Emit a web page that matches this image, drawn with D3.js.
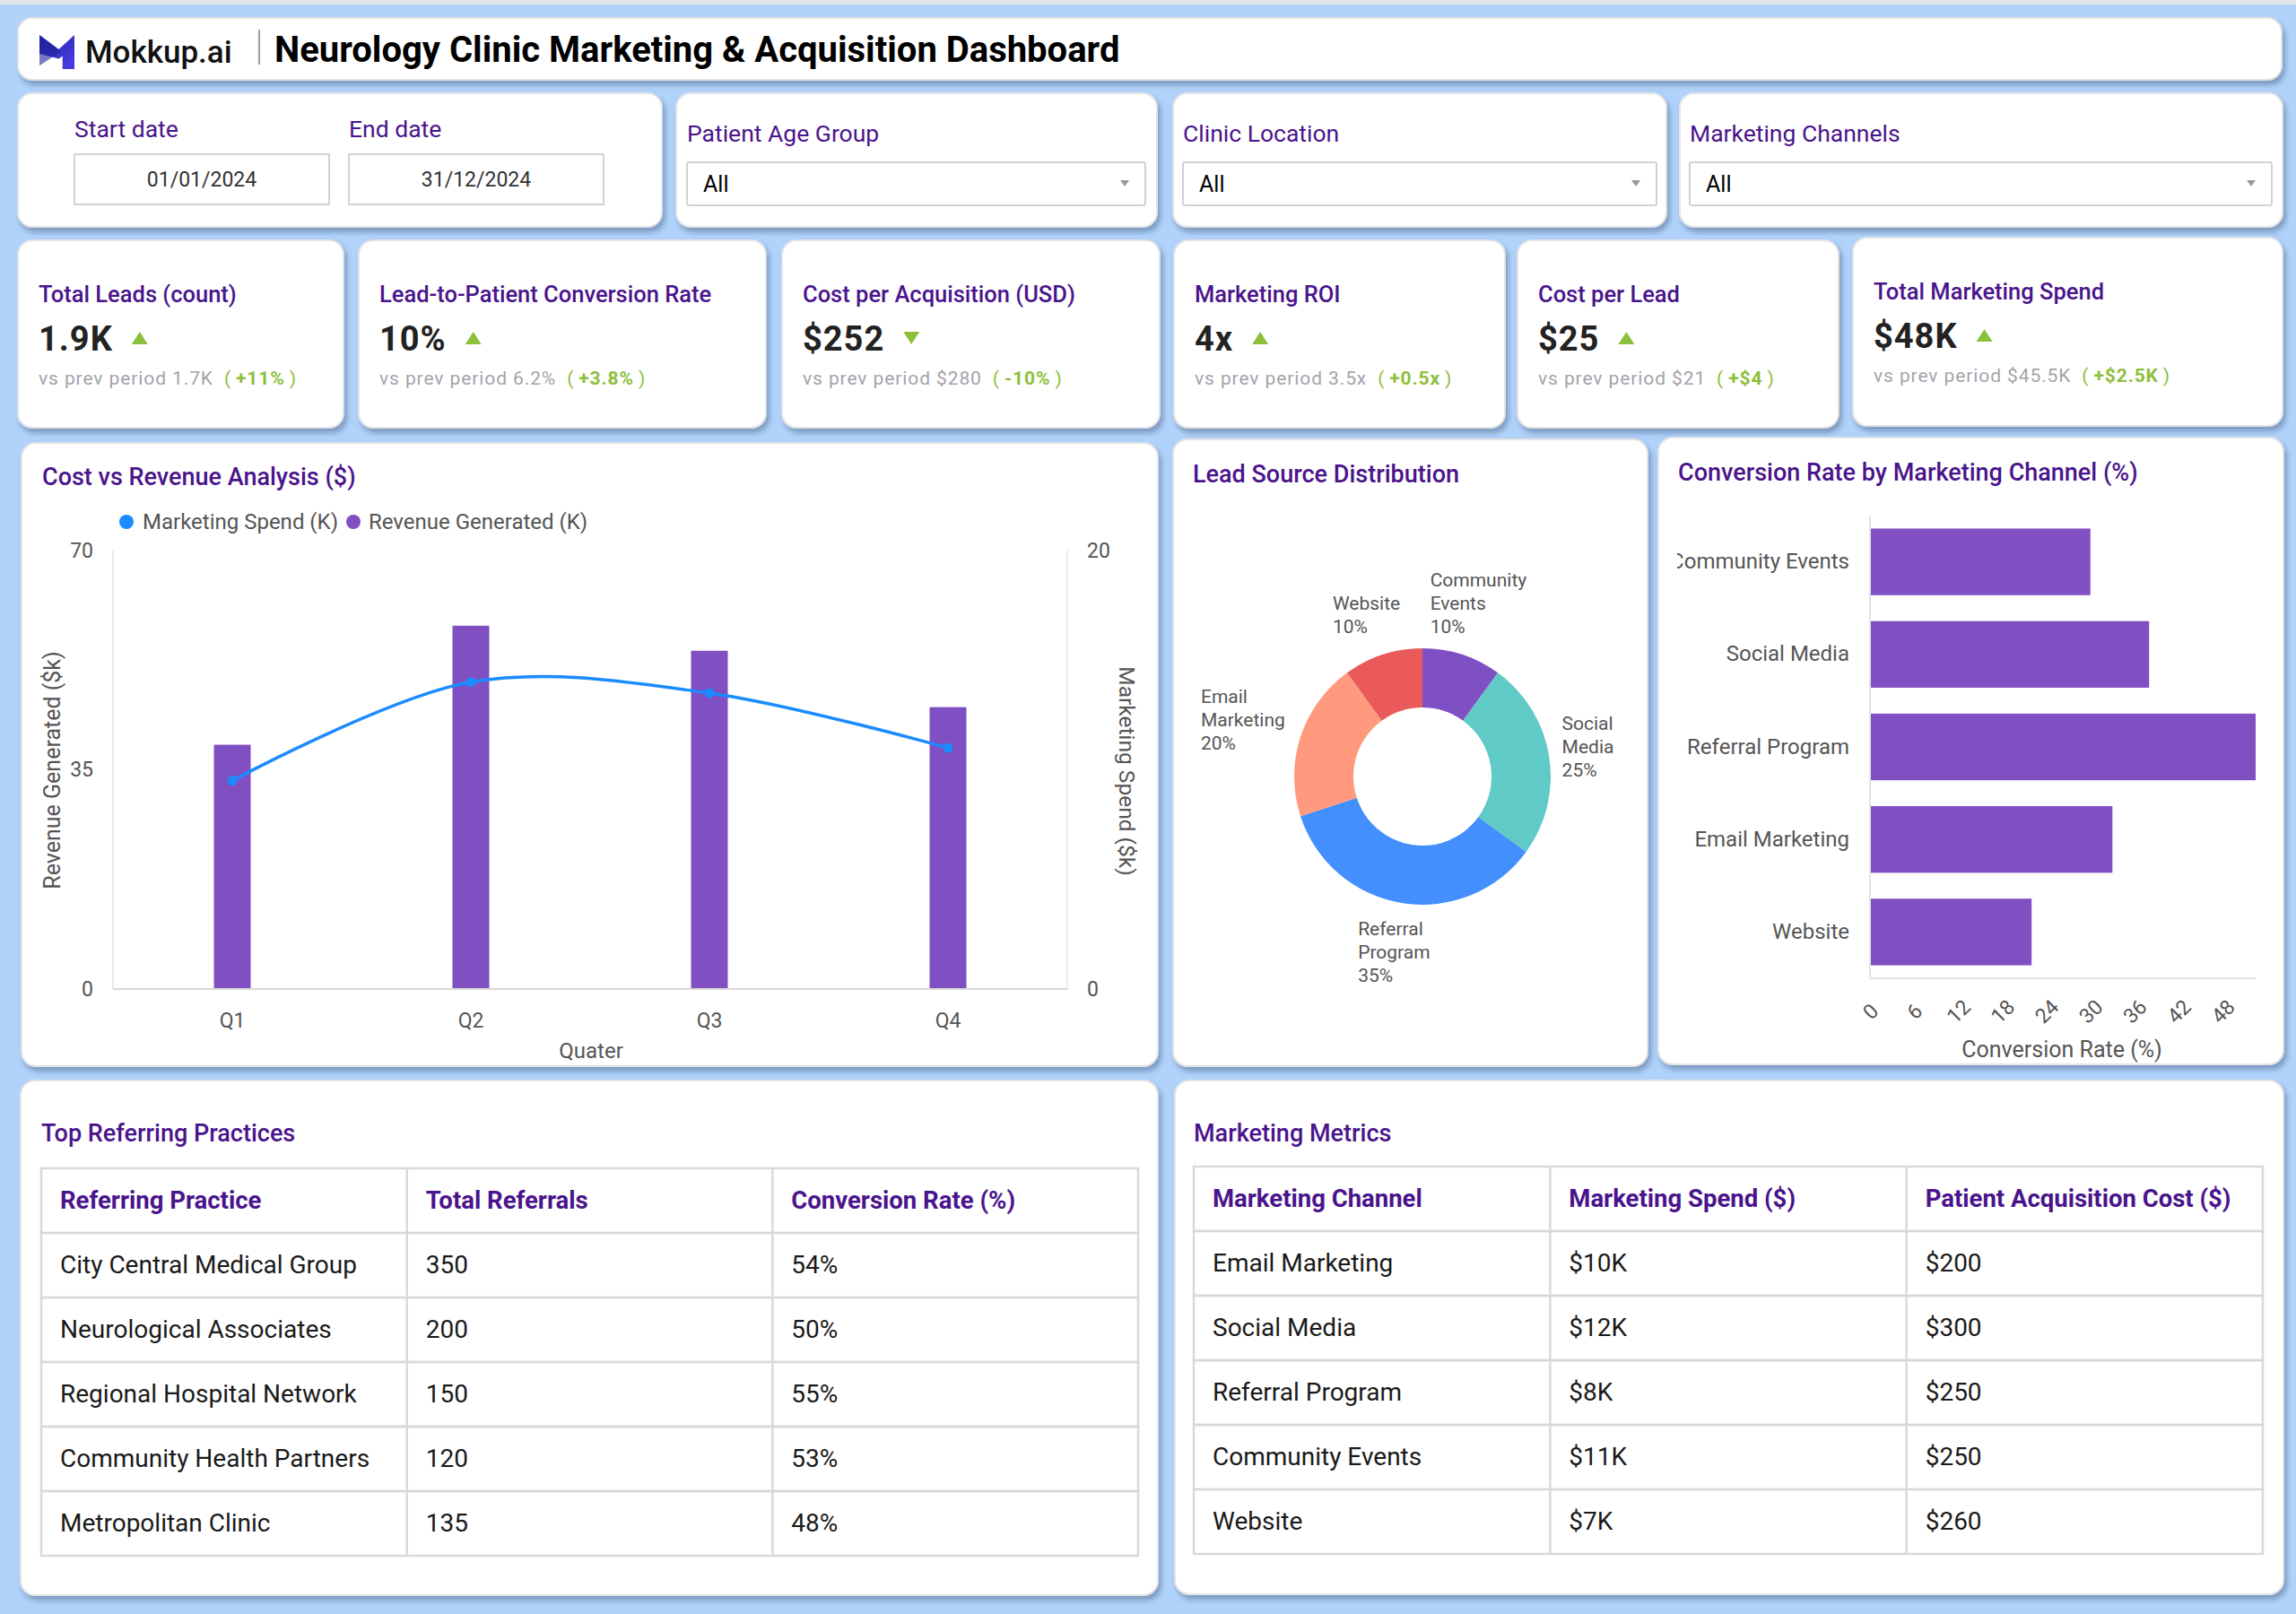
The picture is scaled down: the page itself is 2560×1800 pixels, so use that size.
<!DOCTYPE html>
<html>
<head>
<meta charset="utf-8">
<script src="https://cdn.jsdelivr.net/npm/d3@7"></script>
<style>
  body { margin: 0; background: #b1d3fb; }
  svg { display: block; }
  text { font-family: Roboto, "Noto Sans", sans-serif; }
</style>
</head>
<body>
<svg id="dash" width="2560" height="1800"></svg>
<script>
// ---- data ----
const kpiTitles = ['Total Leads (count)', 'Lead-to-Patient Conversion Rate', 'Cost per Acquisition (USD)', 'Marketing ROI', 'Cost per Lead', 'Total Marketing Spend'];
const kpiValues = ['1.9K', '10%', '$252', '4x', '$25', '$48K'];
const kpiPrev = ['1.7K', '6.2%', '$280', '3.5x', '$21', '$45.5K'];
const kpiDelta = ['+11%', '+3.8%', '-10%', '+0.5x', '+$4', '+$2.5K'];
const kpiUp = [true, true, false, true, true, true];

const quarters = ['Q1', 'Q2', 'Q3', 'Q4'];
const revenue = [39, 58, 54, 45];        // Revenue Generated (K)
const spend = [9.5, 14, 13.5, 11];       // Marketing Spend (K)
const revTicks = [0, 35, 70];
const spendTicks = [0, 20];

const leadSources = ['Community Events', 'Social Media', 'Referral Program', 'Email Marketing', 'Website'];
const leadShares = [10, 25, 35, 20, 10];
const leadColors = ['#7f4fc4', '#5fcac6', '#448ffe', '#ff9a7e', '#ea5a5a'];
// small hand nudges for the outside labels [dx, dy]
const labelNudge = [[0, 0], [-15, 0], [0, -3], [-8, 0], [0, 13]];

const channels = ['Community Events', 'Social Media', 'Referral Program', 'Email Marketing', 'Website'];
const convRates = [30, 38, 52.5, 33, 22];
const convTicks = [0, 6, 12, 18, 24, 30, 36, 42, 48];

const practices = ['City Central Medical Group', 'Neurological Associates', 'Regional Hospital Network', 'Community Health Partners', 'Metropolitan Clinic'];
const referrals = [350, 200, 150, 120, 135];
const practiceConv = ['54%', '50%', '55%', '53%', '48%'];

const metricChannels = ['Email Marketing', 'Social Media', 'Referral Program', 'Community Events', 'Website'];
const metricSpend = ['$10K', '$12K', '$8K', '$11K', '$7K'];
const metricCac = ['$200', '$300', '$250', '$250', '$260'];

// ---- styles ----
const purple = '#4a148c';
const barPurple = '#804fc2';
const lineBlue = '#1a8cff';
const green = '#8cc03c';
const axisGray = '#555';
const arial = '"Liberation Sans", Arial, sans-serif';

const svg = d3.select('#dash');

const defs = svg.append('defs');
const sh = defs.append('filter').attr('id', 'sh')
  .attr('x', '-5%').attr('y', '-5%').attr('width', '112%').attr('height', '125%');
sh.append('feDropShadow').attr('dx', 3).attr('dy', 5).attr('stdDeviation', 3)
  .attr('flood-color', '#4f6a92').attr('flood-opacity', 0.55);

const grad = defs.append('linearGradient').attr('id', 'logoGrad')
  .attr('x1', 0).attr('y1', 0).attr('x2', 1).attr('y2', 1);
grad.append('stop').attr('offset', 0).attr('stop-color', '#2326a8');
grad.append('stop').attr('offset', 1).attr('stop-color', '#4a3ee6');

svg.append('rect').attr('width', 2560).attr('height', 1800).attr('fill', '#b1d3fb');
svg.append('rect').attr('width', 2560).attr('height', 5).attr('fill', '#e6e6e6');

const card = (x, y, w, h) => svg.append('rect')
  .attr('x', x).attr('y', y).attr('width', w).attr('height', h)
  .attr('rx', 16).attr('fill', '#fff')
  .attr('stroke', '#e4e4e4').attr('stroke-width', 2)
  .attr('filter', 'url(#sh)');

// ---- header ----
card(20, 20, 2524, 69);
svg.append('path')
  .attr('transform', 'translate(44,39) scale(39,38)')
  .attr('d', 'M0,0 L0.55,0.42 L1,0 L1,1 L0.66,1 L0.66,0.62 L0.55,0.7 L0,0.55 Z')
  .attr('fill', 'url(#logoGrad)');
svg.append('path')
  .attr('transform', 'translate(44,39) scale(39,38)')
  .attr('d', 'M0,0 L0.62,0.48 L0,0.9 Z')
  .attr('fill', '#1f2199').attr('opacity', 0.6);
svg.append('text').attr('x', 95).attr('y', 70)
  .attr('font-family', 'Inter, Roboto, sans-serif')
  .attr('font-size', 35).attr('font-weight', 500).attr('fill', '#111')
  .text('Mokkup.ai');
svg.append('line').attr('x1', 289).attr('x2', 289).attr('y1', 33).attr('y2', 72)
  .attr('stroke', '#8a7d74').attr('stroke-width', 1.5);
svg.append('text').attr('x', 306).attr('y', 69)
  .attr('font-size', 40).attr('font-weight', 700).attr('fill', '#000')
  .text('Neurology Clinic Marketing & Acquisition Dashboard');

// ---- filters ----
card(20, 104, 718, 149);
card(754, 104, 536, 149);
card(1308, 104, 550, 149);
card(1873, 104, 672, 149);

const label = (x, y, t) => svg.append('text').attr('x', x).attr('y', y)
  .attr('font-size', 26.5).attr('fill', purple).text(t);

label(83, 153, 'Start date');
label(389, 153, 'End date');
[[83, '01/01/2024'], [389, '31/12/2024']].forEach(([x, t]) => {
  svg.append('rect').attr('x', x).attr('y', 172).attr('width', 284).attr('height', 56)
    .attr('fill', '#fff').attr('stroke', '#d2d2d2').attr('stroke-width', 2);
  svg.append('text').attr('x', x + 142).attr('y', 208).attr('text-anchor', 'middle')
    .attr('font-size', 23).attr('fill', '#333').text(t);
});

const dropdown = (x, w, title) => {
  label(x, 158, title);
  svg.append('rect').attr('x', x).attr('y', 181).attr('width', w).attr('height', 48)
    .attr('rx', 2).attr('fill', '#fff').attr('stroke', '#d2d2d2').attr('stroke-width', 2);
  svg.append('text').attr('x', x + 18).attr('y', 214)
    .attr('font-size', 25).attr('fill', '#000').text('All');
  const ax = x + w - 23;
  svg.append('path').attr('d', `M${ax - 5},201 L${ax + 5},201 L${ax},208 Z`).attr('fill', '#999');
};
dropdown(766, 511, 'Patient Age Group');
dropdown(1319, 528, 'Clinic Location');
dropdown(1884, 649, 'Marketing Channels');

// ---- KPI cards ----
const kpiBoxes = [[20, 268, 363, 209], [400, 268, 454, 209], [872, 268, 421, 209],
  [1309, 268, 369, 209], [1692, 268, 358, 209], [2066, 265, 479, 210]];

kpiBoxes.forEach(([x, y, w, h], i) => {
  card(x, y, w, h);
  const tx = x + 23;
  svg.append('text').attr('x', tx).attr('y', y + 69)
    .attr('font-size', 25.5).attr('font-weight', 500).attr('fill', purple)
    .text(kpiTitles[i]);
  const v = svg.append('text').attr('x', tx).attr('y', y + 123)
    .attr('font-size', 38).attr('font-weight', 700).attr('fill', '#222')
    .attr('letter-spacing', 1).text(kpiValues[i]);
  const vw = v.node().getComputedTextLength();
  const triX = tx + vw + 21, triY = y + 109;
  svg.append('path')
    .attr('d', kpiUp[i]
      ? `M${triX},${triY + 7} L${triX + 18},${triY + 7} L${triX + 9},${triY - 7} Z`
      : `M${triX},${triY - 7} L${triX + 18},${triY - 7} L${triX + 9},${triY + 7} Z`)
    .attr('fill', green);
  const p = svg.append('text').attr('x', tx).attr('y', y + 161)
    .attr('font-size', 21).attr('fill', '#a3a3ab').attr('letter-spacing', 0.9);
  p.append('tspan').text(`vs prev period ${kpiPrev[i]}`);
  p.append('tspan').attr('dx', 12).attr('fill', green).text('(');
  p.append('tspan').attr('dx', 5).attr('fill', green).attr('font-weight', 700).text(kpiDelta[i]);
  p.append('tspan').attr('dx', 5).attr('fill', green).text(')');
});

// ---- Cost vs Revenue ----
card(24, 494, 1267, 695);
const chartTitle = (x, y, t) => svg.append('text').attr('x', x).attr('y', y)
  .attr('font-size', 27).attr('font-weight', 500).attr('fill', purple).text(t);
chartTitle(47, 541, 'Cost vs Revenue Analysis ($)');

const legend = svg.append('g').attr('font-size', 24).attr('fill', axisGray);
legend.append('circle').attr('cx', 141).attr('cy', 582).attr('r', 8).attr('fill', lineBlue);
legend.append('text').attr('x', 159).attr('y', 590).text('Marketing Spend (K)');
legend.append('circle').attr('cx', 394).attr('cy', 582).attr('r', 8).attr('fill', barPurple);
legend.append('text').attr('x', 411).attr('y', 590).text('Revenue Generated (K)');

const plotL = 126, plotR = 1190, plotT = 614, plotB = 1103;
const xA = d3.scaleBand().domain(quarters).range([plotL, plotR]);
const yRev = d3.scaleLinear().domain([0, 70]).range([plotB, plotT]);
const ySpend = d3.scaleLinear().domain([0, 20]).range([plotB, plotT]);
const barW = 41;

const gA = svg.append('g');
gA.append('line').attr('x1', plotL).attr('x2', plotL).attr('y1', plotT).attr('y2', plotB)
  .attr('stroke', '#e3e3e3').attr('stroke-width', 1.5);
gA.append('line').attr('x1', plotR).attr('x2', plotR).attr('y1', plotT).attr('y2', plotB)
  .attr('stroke', '#e3e3e3').attr('stroke-width', 1.5);

gA.selectAll('rect.bar').data(revenue).enter().append('rect')
  .attr('class', 'bar')
  .attr('x', (d, i) => xA(quarters[i]) + xA.bandwidth() / 2 - barW / 2)
  .attr('y', d => yRev(d))
  .attr('width', barW)
  .attr('height', d => plotB - yRev(d))
  .attr('fill', barPurple);

gA.append('line').attr('x1', plotL).attr('x2', plotR).attr('y1', plotB).attr('y2', plotB)
  .attr('stroke', '#d9d9d9').attr('stroke-width', 2);

const lineGen = d3.line()
  .x((d, i) => xA(quarters[i]) + xA.bandwidth() / 2)
  .y(d => ySpend(d))
  .curve(d3.curveCatmullRom);
gA.append('path').attr('d', lineGen(spend))
  .attr('fill', 'none').attr('stroke', lineBlue).attr('stroke-width', 3.5);
gA.selectAll('circle.pt').data(spend).enter().append('circle')
  .attr('class', 'pt')
  .attr('cx', (d, i) => xA(quarters[i]) + xA.bandwidth() / 2)
  .attr('cy', d => ySpend(d))
  .attr('r', 5.5).attr('fill', lineBlue);

const styleAxis = (g, size) => {
  g.select('.domain').remove();
  g.selectAll('text').attr('font-family', 'Roboto, sans-serif')
    .attr('font-size', size).attr('fill', axisGray);
};
svg.append('g').attr('transform', `translate(${plotL},0)`)
  .call(d3.axisLeft(yRev).tickValues(revTicks).tickSize(0).tickPadding(22))
  .call(g => styleAxis(g, 23));
svg.append('g').attr('transform', `translate(${plotR},0)`)
  .call(d3.axisRight(ySpend).tickValues(spendTicks).tickSize(0).tickPadding(22))
  .call(g => styleAxis(g, 23));
svg.append('g').attr('transform', `translate(0,${plotB})`)
  .call(d3.axisBottom(xA).tickSize(0).tickPadding(27))
  .call(g => styleAxis(g, 23));

const axisTitle = (x, y, rot, t, size) => svg.append('text')
  .attr('transform', `translate(${x},${y}) rotate(${rot})`)
  .attr('text-anchor', 'middle').attr('dy', '0.35em')
  .attr('font-family', arial)
  .attr('font-size', size || 25).attr('fill', axisGray).text(t);
axisTitle(58, 859, -90, 'Revenue Generated ($k)');
axisTitle(1257, 860, 90, 'Marketing Spend ($k)', 24.5);
axisTitle(659, 1172, 0, 'Quater', 24);

// ---- Lead Source donut ----
card(1308, 490, 529, 699);
chartTitle(1330, 538, 'Lead Source Distribution');

const cx = 1586, cy = 866;
const pie = d3.pie().sort(null).value(d => d)(leadShares);
const arc = d3.arc().innerRadius(77).outerRadius(143);
const labelArc = d3.arc().innerRadius(202).outerRadius(202);
const gB = svg.append('g').attr('transform', `translate(${cx},${cy})`);
gB.selectAll('path').data(pie).enter().append('path')
  .attr('d', arc).attr('fill', (d, i) => leadColors[i]);

pie.forEach((d, i) => {
  const lines = leadSources[i].split(' ').concat([leadShares[i] + '%']);
  const [cxl, cyl] = labelArc.centroid(d);
  const lx = cxl + labelNudge[i][0], ly = cyl + labelNudge[i][1];
  const t = gB.append('text')
    .attr('font-family', arial)
    .attr('font-size', 21).attr('fill', axisGray);
  const lh = 26;
  const top = ly - (lines.length * lh) / 2 + 19;
  lines.forEach((s, j) => t.append('tspan').attr('y', top + j * lh).text(s));
  let maxW = 0;
  t.selectAll('tspan').each(function () { maxW = Math.max(maxW, this.getComputedTextLength()); });
  t.selectAll('tspan').attr('x', lx - maxW / 2);
});

// ---- Conversion Rate by Channel ----
card(1849, 488, 697, 699);
chartTitle(1871, 536, 'Conversion Rate by Marketing Channel (%)');

const cL = 2085, cR = 2515, cT = 575, cB = 1091;
const yC = d3.scaleBand().domain(channels).range([cT, cB]).paddingInner(0.28).paddingOuter(0.14);
const xC = d3.scaleLinear().domain([0, d3.max(convRates)]).range([cL, cR]);

defs.append('clipPath').attr('id', 'clipC')
  .append('rect').attr('x', 1870).attr('y', 488).attr('width', 676).attr('height', 699);
const gC = svg.append('g').attr('clip-path', 'url(#clipC)');

gC.selectAll('rect').data(convRates).enter().append('rect')
  .attr('x', cL)
  .attr('y', (d, i) => yC(channels[i]))
  .attr('width', d => xC(d) - cL)
  .attr('height', yC.bandwidth())
  .attr('fill', barPurple);
gC.append('line').attr('x1', cL).attr('x2', cL).attr('y1', cT).attr('y2', cB)
  .attr('stroke', '#e3e3e3').attr('stroke-width', 2);
gC.append('line').attr('x1', cL).attr('x2', cR).attr('y1', cB).attr('y2', cB)
  .attr('stroke', '#e3e3e3').attr('stroke-width', 2);

gC.append('g').attr('transform', `translate(${cL},0)`)
  .call(d3.axisLeft(yC).tickSize(0).tickPadding(23))
  .call(g => styleAxis(g, 24));

gC.append('g').attr('transform', `translate(0,${cB})`)
  .call(d3.axisBottom(xC).tickValues(convTicks).tickSize(0))
  .call(g => {
    styleAxis(g, 23);
    g.selectAll('text')
      .attr('font-family', arial)
      .attr('y', 0).attr('dy', '0.35em')
      .attr('text-anchor', 'middle')
      .attr('transform', 'translate(0,37) rotate(-45)');
  });
axisTitle(2299, 1170, 0, 'Conversion Rate (%)');

// ---- tables ----
const drawTable = (x, y, w, headers, cols) => {
  const rowH = 72, colW = w / 3, n = cols[0].length;
  const g = svg.append('g');
  for (let r = 0; r <= n; r++) {
    g.append('rect').attr('x', x).attr('y', y + r * rowH)
      .attr('width', w).attr('height', rowH)
      .attr('fill', 'none').attr('stroke', '#d9d9d9').attr('stroke-width', 2.5);
  }
  for (let c = 1; c < 3; c++) {
    g.append('line').attr('x1', x + c * colW).attr('x2', x + c * colW)
      .attr('y1', y).attr('y2', y + (n + 1) * rowH)
      .attr('stroke', '#d9d9d9').attr('stroke-width', 2.5);
  }
  headers.forEach((hd, c) => g.append('text')
    .attr('x', x + c * colW + 21).attr('y', y + 45)
    .attr('font-size', 27.5).attr('font-weight', 700).attr('fill', purple).text(hd));
  cols.forEach((col, c) => col.forEach((v, r) => g.append('text')
    .attr('x', x + c * colW + 21).attr('y', y + (r + 1) * rowH + 45)
    .attr('font-size', 28).attr('fill', '#1a1a1a').text(v)));
};

card(23, 1205, 1268, 574);
chartTitle(46, 1273, 'Top Referring Practices');
drawTable(46, 1303, 1223, ['Referring Practice', 'Total Referrals', 'Conversion Rate (%)'],
  [practices, referrals, practiceConv]);

card(1310, 1205, 1236, 573);
chartTitle(1331, 1273, 'Marketing Metrics');
drawTable(1331, 1301, 1192, ['Marketing Channel', 'Marketing Spend ($)', 'Patient Acquisition Cost ($)'],
  [metricChannels, metricSpend, metricCac]);
</script>
</body>
</html>
